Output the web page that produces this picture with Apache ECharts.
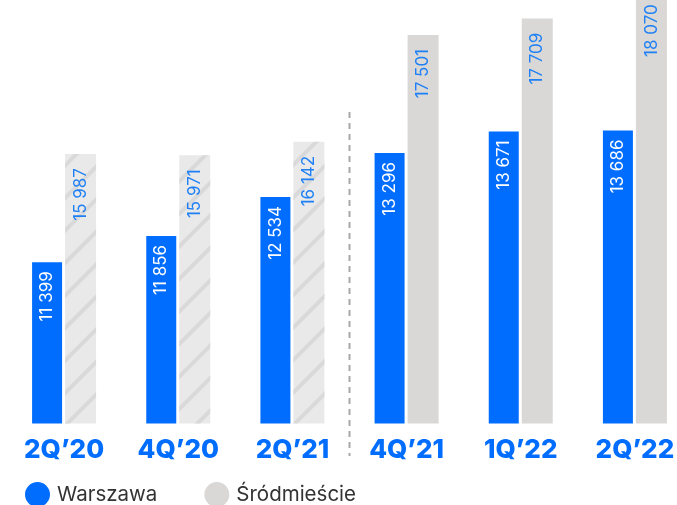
<!DOCTYPE html>
<html>
<head>
<meta charset="utf-8">
<script src="https://cdn.jsdelivr.net/npm/echarts@6/dist/echarts.min.js"></script>
<style>html,body{margin:0;padding:0;background:#fff;}#c{width:677px;height:505px;}</style>
</head>
<body>
<div id="c"></div>
<script>
const categories = ['2Q’20', '4Q’20', '2Q’21', '4Q’21', '1Q’22', '2Q’22'];
const warszawa = [11399, 11856, 12534, 13296, 13671, 13686];
const srodmiescie = [15987, 15971, 16142, 17501, 17709, 18070];
const hatched = [true, true, true, false, false, false];

const fmt = v => String(v).replace(/\B(?=(\d{3})+(?!\d))/g, ' ');
const FONT = 'Inter, "Open Sans", sans-serif';
const BLUE = '#006dff';

const chart = echarts.init(document.getElementById('c'), null, {renderer: 'canvas'});
chart.setOption({
  animation: false,
  backgroundColor: '#ffffff',
  grid: {left: 7, width: 685, top: -20, bottom: 81.5, outerBoundsMode: 'none', containLabel: false},
  legend: {
    left: 25, top: 482, padding: 0, icon: 'circle', itemWidth: 25, itemHeight: 25, itemGap: 47,
    textStyle: {fontSize: 20.5, color: '#333', fontFamily: FONT, padding: [0, 0, 0, 2]},
    data: ['Warszawa', 'Śródmieście']
  },
  xAxis: {
    type: 'category', data: categories,
    axisLine: {show: false}, axisTick: {show: false},
    axisLabel: {color: BLUE, fontSize: 26, fontWeight: 800, fontFamily: FONT, margin: 14}
  },
  yAxis: [
    {type: 'value', min: 8600, max: 16300, show: false, splitLine: {show: false}},
    {type: 'value', min: 12560, max: 18200, show: false, splitLine: {show: false}}
  ],
  series: [
    {
      name: 'Warszawa', type: 'bar', yAxisIndex: 0, barWidth: 30, barGap: '10%',
      itemStyle: {color: BLUE},
      label: {
        show: true, position: 'insideTop', rotate: 90, align: 'right', verticalAlign: 'middle',
        distance: 9, color: '#fff', fontSize: 17, fontFamily: FONT,
        formatter: p => fmt(p.value)
      },
      data: warszawa
    },
    {
      name: 'Śródmieście', type: 'bar', yAxisIndex: 1, barWidth: 31, barGap: '10%',
      itemStyle: {color: '#d9d8d7'},
      label: {
        show: true, position: 'insideTop', rotate: 90, align: 'right', verticalAlign: 'middle',
        distance: 14, color: '#1f80f5', fontSize: 17, fontFamily: FONT,
        formatter: p => fmt(p.value)
      },
      data: srodmiescie.map((v, i) => hatched[i] ? {
        value: v,
        itemStyle: {
          color: '#e9e9e9',
          decal: {symbol: 'rect', symbolSize: 1, color: '#d9d9d9', dashArrayX: [1, 0], dashArrayY: [4, 19], rotation: -Math.PI / 4}
        }
      } : v)
    }
  ]
});

const x2 = chart.convertToPixel({xAxisIndex: 0}, categories[2]);
const x3 = chart.convertToPixel({xAxisIndex: 0}, categories[3]);
const xm = (x2 + x3) / 2;
chart.setOption({
  graphic: [{
    type: 'line', shape: {x1: xm, y1: 112, x2: xm, y2: 456},
    style: {stroke: '#a8a8a8', lineWidth: 2, lineDash: [6, 5]}
  }]
});
</script>
</body>
</html>
